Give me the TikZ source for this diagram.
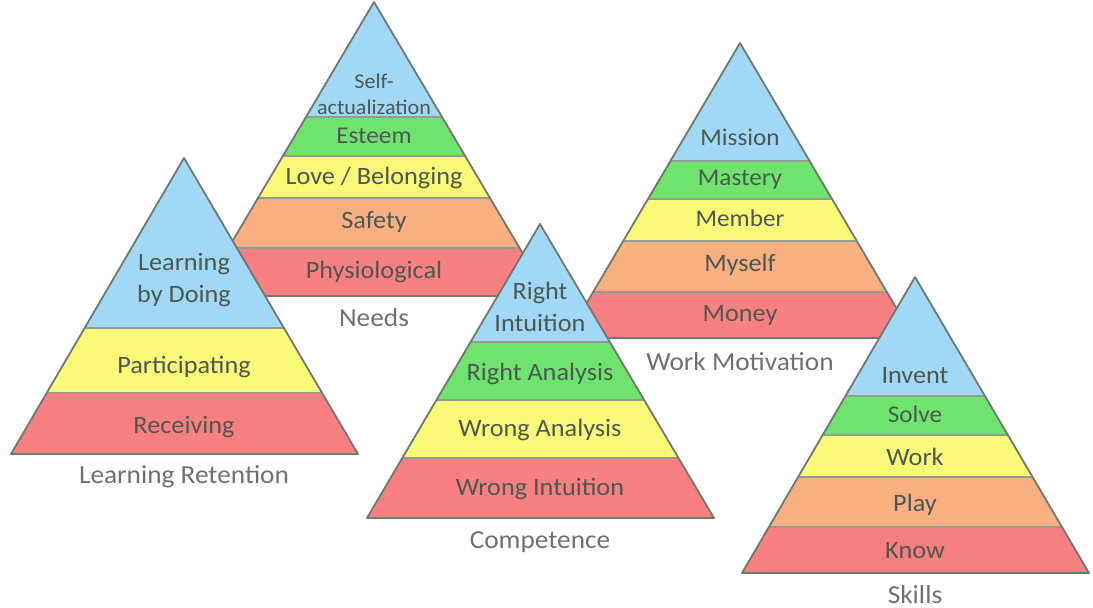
\documentclass[tikz,border=0pt]{standalone}
\usepackage{fontspec}
\setmainfont{Carlito}[FakeStretch=1.05]
\usetikzlibrary{positioning}

\definecolor{pblue}{RGB}{160,216,245}
\definecolor{pgreen}{RGB}{110,228,110}
\definecolor{pyellow}{RGB}{250,250,120}
\definecolor{porange}{RGB}{248,176,128}
\definecolor{pred}{RGB}{248,128,128}
\definecolor{edgegray}{RGB}{112,120,112}
\definecolor{textgray}{RGB}{78,88,82}
\definecolor{titlegray}{RGB}{112,112,112}

\begin{document}
\begin{tikzpicture}[
    x=1pt, y=-1pt,
    band/.style={draw=edgegray!75, line width=1.6pt},
    outline/.style={draw=edgegray, line width=1.8pt, line join=round},
    lvl/.style={anchor=base, inner sep=0pt, text=textgray, font=\fontsize{25}{32}\selectfont},
    lvlsmall/.style={lvl, font=\fontsize{24}{30}\selectfont},
    lvltwo/.style={align=center, inner sep=0pt, text=textgray, font=\fontsize{25}{32}\selectfont},
    ptitle/.style={anchor=base, inner sep=0pt, text=titlegray, font=\fontsize{26}{32}\selectfont},
]
\useasboundingbox (0,0) rectangle (1093,608);

% Needs (back)
\begin{scope}
    \clip (374,2) -- (200,296) -- (548,296) -- cycle;
    \foreach \ya/\yb/\c in {2/117/pblue, 117/156/pgreen, 156/198/pyellow, 198/248/porange, 248/296/pred}
        \filldraw[band, fill=\c] (0,\ya) rectangle (1093,\yb);
\end{scope}
\draw[outline] (374,2) -- (200,296) -- (548,296) -- cycle;
\node[lvltwo, font=\fontsize{21}{26}\selectfont] (nd-1) at (374,94) {Self-\\actualization};
\node[lvlsmall] (nd-2) at (374,143) {Esteem};
\node[lvl] (nd-3) at (374,184) {Love / Belonging};
\node[lvl] (nd-4) at (374,228) {Safety};
\node[lvl] (nd-5) at (374,278) {Physiological};
\node[ptitle] (nd-title) at (374,326) {Needs};

% Work Motivation (back)
\begin{scope}
    \clip (740,43) -- (566,338) -- (914,338) -- cycle;
    \foreach \ya/\yb/\c in {43/161/pblue, 161/199/pgreen, 199/241/pyellow, 241/292/porange, 292/338/pred}
        \filldraw[band, fill=\c] (0,\ya) rectangle (1093,\yb);
\end{scope}
\draw[outline] (740,43) -- (566,338) -- (914,338) -- cycle;
\node[lvlsmall] (wm-1) at (740,145) {Mission};
\node[lvlsmall] (wm-2) at (740,185) {Mastery};
\node[lvlsmall] (wm-3) at (740,226) {Member};
\node[lvl] (wm-4) at (740,271) {Myself};
\node[lvl] (wm-5) at (740,321) {Money};
\node[ptitle] (wm-title) at (740,370) {Work Motivation};

% Learning Retention
\begin{scope}
    \clip (184,158) -- (11,454) -- (358,454) -- cycle;
    \foreach \ya/\yb/\c in {158/328/pblue, 328/393/pyellow, 393/454/pred}
        \filldraw[band, fill=\c] (0,\ya) rectangle (1093,\yb);
\end{scope}
\draw[outline] (184,158) -- (11,454) -- (358,454) -- cycle;
\node[lvltwo] (lr-1) at (184,280) {Learning\\by Doing};
\node[lvl] (lr-2) at (184,373) {Participating};
\node[lvl] (lr-3) at (184,433) {Receiving};
\node[ptitle] (lr-title) at (184,483) {Learning Retention};

% Competence
\begin{scope}
    \clip (540,224) -- (367,518) -- (714,518) -- cycle;
    \foreach \ya/\yb/\c in {224/342/pblue, 342/400/pgreen, 400/458/pyellow, 458/518/pred}
        \filldraw[band, fill=\c] (0,\ya) rectangle (1093,\yb);
\end{scope}
\draw[outline] (540,224) -- (367,518) -- (714,518) -- cycle;
\node[lvltwo] (cp-1) at (540,307) {Right\\Intuition};
\node[lvl] (cp-2) at (540,380) {Right Analysis};
\node[lvl] (cp-3) at (540,436) {Wrong Analysis};
\node[lvl] (cp-4) at (540,495) {Wrong Intuition};
\node[ptitle] (cp-title) at (540,548) {Competence};

% Skills
\begin{scope}
    \clip (915,277) -- (742,573) -- (1089,573) -- cycle;
    \foreach \ya/\yb/\c in {277/396/pblue, 396/435/pgreen, 435/477/pyellow, 477/527/porange, 527/573/pred}
        \filldraw[band, fill=\c] (0,\ya) rectangle (1093,\yb);
\end{scope}
\draw[outline] (915,277) -- (742,573) -- (1089,573) -- cycle;
\node[lvl] (sk-1) at (915,383) {Invent};
\node[lvlsmall] (sk-2) at (915,422) {Solve};
\node[lvl] (sk-3) at (915,465) {Work};
\node[lvl] (sk-4) at (915,511) {Play};
\node[lvl] (sk-5) at (915,558) {Know};
\node[ptitle] (sk-title) at (915,603) {Skills};
\end{tikzpicture}
\end{document}
